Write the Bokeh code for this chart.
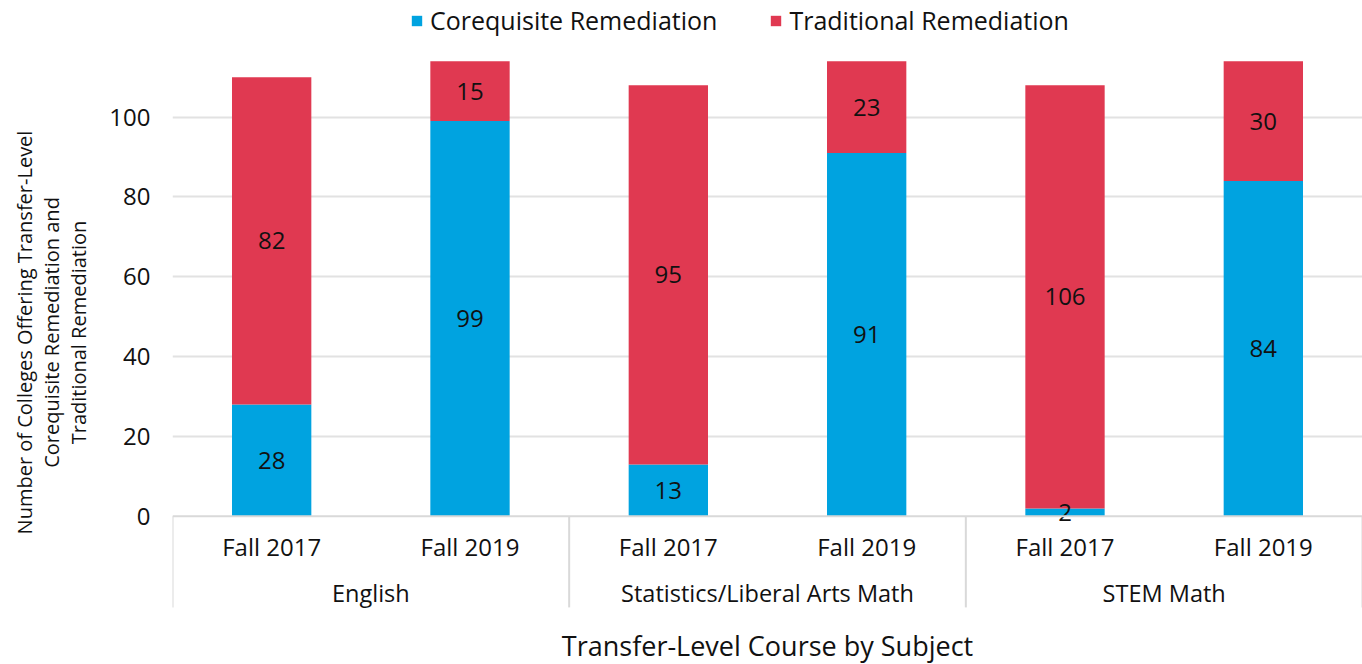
from bokeh.plotting import figure
from bokeh.models import (ColumnDataSource, Range1d, FixedTicker, Legend, LegendItem)
from bokeh.core.properties import value
from bokeh.embed import file_html
from bokeh.resources import INLINE

# ---- data ----
subjects = ["English", "Statistics/Liberal Arts Math", "STEM Math"]
terms = ["Fall 2017", "Fall 2019"]
corequisite = [28, 99, 13, 91, 2, 84]
traditional = [82, 15, 95, 23, 106, 30]
y_ticks = [0, 20, 40, 60, 80, 100]
x_title = "Transfer-Level Course by Subject"
y_title = "Number of Colleges Offering Transfer-Level\nCorequisite Remediation and\nTraditional Remediation"

FONT = "Open Sans"
BLUE = "#00A3E0"
RED = "#E03951"
TXT = "#111111"
GRID = "#e2e2e2"

n = len(corequisite)
xs = [i + 0.5 for i in range(n)]
cats = [terms[i % 2] for i in range(n)]
totals = [c + t for c, t in zip(corequisite, traditional)]

y_min, y_max = -37.1, 129.2

p = figure(width=1362, height=664, output_backend="svg", toolbar_location=None,
           x_range=Range1d(0, n), y_range=Range1d(y_min, y_max),
           min_border_left=172, min_border_right=0, min_border_top=0,
           min_border_bottom=0)
p.outline_line_color = None
p.background_fill_color = "white"
p.border_fill_color = "white"
p.xaxis.visible = False
p.xgrid.visible = False

# y axis
p.yaxis.ticker = FixedTicker(ticks=y_ticks)
p.yaxis.axis_line_color = None
p.yaxis.major_tick_line_color = None
p.yaxis.minor_tick_line_color = None
p.yaxis.major_label_standoff = 16
p.yaxis.major_label_text_font = FONT
p.yaxis.major_label_text_font_size = "24px"
p.yaxis.major_label_text_color = TXT
p.yaxis.axis_label = y_title
p.yaxis.axis_label_text_font = FONT
p.yaxis.axis_label_text_font_size = "20px"
p.yaxis.axis_label_text_font_style = "normal"
p.yaxis.axis_label_text_color = TXT
p.yaxis.axis_label_text_line_height = 1.0
p.yaxis.axis_label_standoff = 14
p.ygrid.ticker = FixedTicker(ticks=[t for t in y_ticks if t > 0])
p.ygrid.grid_line_color = GRID
p.ygrid.grid_line_width = 2

src = ColumnDataSource(dict(x=xs, c=corequisite, t=traditional, tot=totals,
                            cmid=[c / 2 for c in corequisite],
                            tmid=[c + t / 2 for c, t in zip(corequisite, traditional)],
                            clab=[str(v) for v in corequisite],
                            tlab=[str(v) for v in traditional]))

bw = 0.4
r_blue = p.vbar(x="x", bottom=0, top="c", width=bw, source=src, fill_color=BLUE,
                line_color=None)
r_red = p.vbar(x="x", bottom="c", top="tot", width=bw, source=src, fill_color=RED,
               line_color=None)

# value labels
for col_y, col_t in (("cmid", "clab"), ("tmid", "tlab")):
    p.text(x="x", y=col_y, text=col_t, source=src, text_align="center",
           text_baseline="middle", text_font=value(FONT), text_font_size="24px",
           text_color=TXT)

# category axis (drawn)
p.segment(x0=[0], y0=[0], x1=[n], y1=[0], line_color="#d9d9d9", line_width=2)
sep_x = [0, 2, 4, 6]
p.segment(x0=sep_x, y0=[0] * 4, x1=sep_x, y1=[-22.8] * 4, line_color="#d9d9d9",
          line_width=2)
p.text(x=xs, y=[-7.6] * n, text=cats, text_align="center", text_baseline="middle",
       text_font=value(FONT), text_font_size="24px", text_color=TXT)
p.text(x=[1, 3, 5], y=[-19.1] * 3, text=subjects, text_align="center",
       text_baseline="middle", text_font=value(FONT), text_font_size="23.5px",
       text_color=TXT)

# x title
p.text(x=[n / 2], y=[-32.3], text=[x_title], text_align="center",
       text_baseline="middle", text_font=value(FONT), text_font_size="27px",
       text_color=TXT)

# legend
legend = Legend(items=[LegendItem(label="Corequisite Remediation", renderers=[r_blue]),
                       LegendItem(label="Traditional Remediation", renderers=[r_red])],
                orientation="horizontal", location=(238, 627),
                label_text_font=FONT, label_text_font_size="25px",
                label_text_color=TXT, glyph_width=13, glyph_height=13,
                label_standoff=7, spacing=52, border_line_color=None,
                background_fill_alpha=0, padding=3, margin=0)
p.add_layout(legend, "center")

open("out.html", "w").write(file_html(p, INLINE))
